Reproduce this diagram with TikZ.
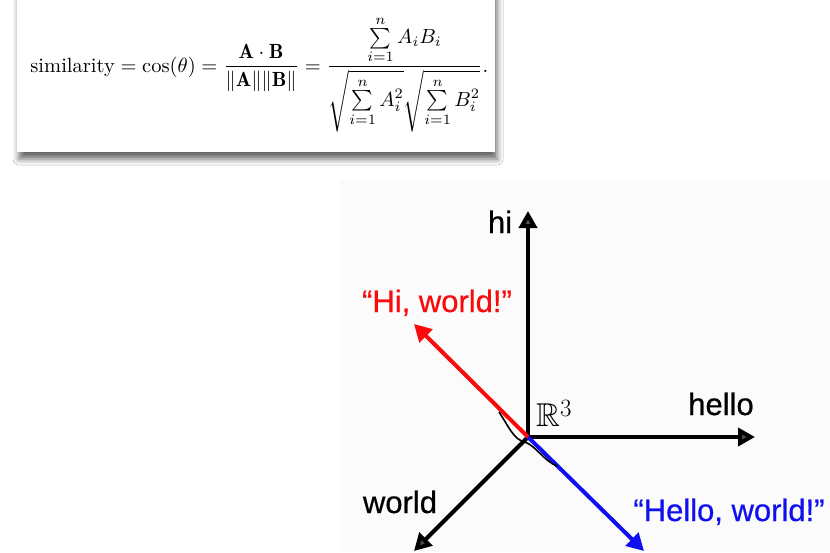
\documentclass[tikz,border=0pt]{standalone}
\usepackage{amsmath,amssymb}
\usepackage{fontspec}
\newfontfamily\labfont[FakeBold=0.6]{Liberation Sans}
\usetikzlibrary{arrows.meta,shadows.blur}
\definecolor{vred}{RGB}{250,10,10}
\definecolor{vblue}{RGB}{15,15,240}
\begin{document}
\begin{tikzpicture}[x=1pt,y=-1pt,
  axis/.style={line width=4pt, line cap=butt, -{Triangle[length=17pt,width=18pt]}},
  lbl/.style={font=\labfont\fontsize{31}{36}\selectfont, inner sep=0pt, anchor=base}]
\useasboundingbox (0,0) rectangle (830,552);
\fill[white] (0,0) rectangle (830,552);
\fill[black!1.5] (340,180) rectangle (830,552);
% formula card
\path[fill=white, blur shadow={shadow xshift=2pt, shadow yshift=-7pt, shadow blur radius=6pt, shadow opacity=60}] (17,-20) rectangle (495,152);
\node[anchor=base west, inner sep=0pt, scale=2.05] (formula) at (30,72)
 {$\displaystyle \text{similarity} = \cos(\theta) = \frac{\mathbf{A}\cdot\mathbf{B}}{\|\mathbf{A}\|\|\mathbf{B}\|} = \frac{\sum\limits_{i=1}^{n} A_iB_i}{\sqrt{\sum\limits_{i=1}^{n} A_i^2}\sqrt{\sum\limits_{i=1}^{n} B_i^2}}.$};
% axes
\coordinate (O) at (528,437);
\coordinate (hiT) at (528,211);
\coordinate (helloT) at (755,437);
\coordinate (worldT) at (414,551);
\coordinate (redT) at (414,324);
\coordinate (blueT) at (644,551);
\draw[axis] (O) -- (worldT);
\draw[axis] (O) -- (hiT);
\draw[axis] (O) -- (helloT);
\draw[axis, vred] (O) -- (redT);
\draw[axis, vblue] (O) -- (blueT);
\draw[line width=1.6pt, black] (499,412) .. controls (509,427) and (514,440) .. (525,442) .. controls (536,446) and (544,461) .. (557,466);
% labels
\node[lbl] (hi) at (500,233) {hi};
\node[lbl] (hello) at (721,415) {hello};
\node[lbl] (world) at (400,513) {world};
\node[lbl, text=vred] (hiw) at (437,312) {“Hi, world!”};
\node[lbl, text=vblue] (hellow) at (729,521) {“Hello, world!”};
\node[anchor=base west, inner sep=0pt, font=\fontsize{33}{36}\selectfont] (R3) at (536,426) {$\mathbb{R}^3$};
\end{tikzpicture}
\end{document}
